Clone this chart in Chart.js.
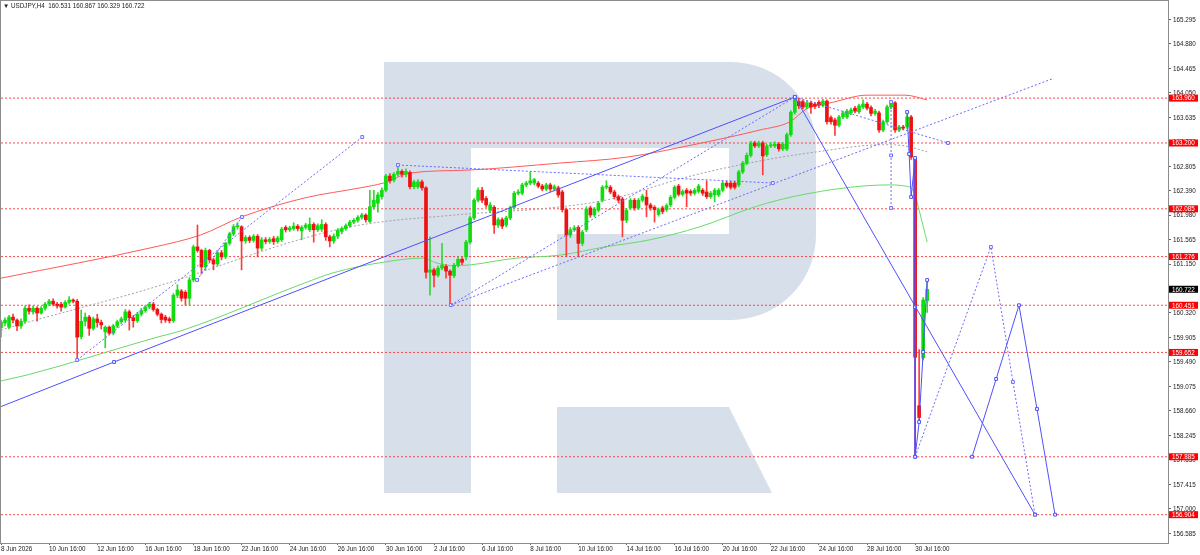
<!DOCTYPE html>
<html lang="en">
<head>
  <meta charset="UTF-8" />
  <title>USDJPY H4</title>
  <script src="https://cdn.jsdelivr.net/npm/chart.js"></script>
  <style>
    html, body { margin: 0; padding: 0; background: #fff; }
    canvas { display: block; }
  </style>
</head>
<body>
  <canvas id="chart" width="1200" height="555"></canvas>

  <script>
    // H4 bars, oldest first: 8 Jun 16:00 ... 31 Jul 04:00 (232 bars)
    const opens = [
      160.07,160.15,160.08,160.25,160.20,160.10,160.18,160.40,160.34,160.40,
      160.32,160.40,160.47,160.52,160.47,160.47,160.42,160.50,160.54,160.52,
      159.92,160.18,160.25,160.06,160.22,160.16,160.00,160.08,159.98,160.10,
      160.17,160.20,160.34,160.24,160.19,160.30,160.36,160.42,160.47,160.38,
      160.30,160.25,160.22,160.19,160.62,160.69,160.67,160.57,160.88,161.44,
      161.38,161.10,161.38,161.22,161.15,161.34,161.27,161.50,161.66,161.78,
      161.78,161.54,161.60,161.55,161.62,161.42,161.56,161.53,161.58,161.53,
      161.56,161.77,161.73,161.75,161.79,161.71,161.77,161.73,161.82,161.73,
      161.74,161.82,161.61,161.54,161.62,161.70,161.75,161.80,161.86,161.89,
      161.94,161.98,161.87,162.12,162.18,162.29,162.40,162.64,162.57,162.67,
      162.72,162.67,162.70,162.46,162.46,162.54,162.44,161.01,161.05,160.96,
      161.08,161.11,161.03,160.95,161.13,161.23,161.27,161.52,161.93,162.23,
      162.40,162.26,162.06,162.11,161.81,161.90,161.81,161.93,162.11,162.35,
      162.35,162.49,162.52,162.52,162.52,162.47,162.42,162.49,162.42,162.44,
      162.37,162.07,161.64,161.73,161.77,161.50,161.73,162.10,161.98,162.06,
      162.23,162.45,162.45,162.37,162.29,162.25,161.89,162.10,162.23,162.10,
      162.23,162.28,162.15,162.11,161.99,162.10,162.07,162.15,162.28,162.47,
      162.33,162.40,162.38,162.35,162.38,162.40,162.37,162.29,162.32,162.32,
      162.40,162.52,162.52,162.52,162.49,162.71,162.86,162.99,163.20,163.15,
      163.20,163.00,163.15,163.15,163.18,163.10,163.10,163.34,163.72,163.90,
      163.90,163.81,163.88,163.86,163.89,163.84,163.91,163.63,163.59,163.50,
      163.64,163.64,163.71,163.79,163.73,163.81,163.86,163.80,163.70,163.71,
      163.42,163.56,163.81,163.88,163.42,163.47,163.47,163.64,162.94,158.75,
      159.56,160.531
    ];
    const highs = [
      160.20,160.24,160.28,160.30,160.22,160.22,160.44,160.46,160.44,160.43,
      160.43,160.50,160.55,160.56,160.50,160.50,160.53,160.60,160.56,160.55,
      160.37,160.32,160.28,160.25,160.30,160.20,160.10,160.10,160.13,160.20,
      160.25,160.38,160.37,160.28,160.33,160.40,160.45,160.50,160.50,160.40,
      160.32,160.28,160.25,160.65,160.80,160.72,160.70,160.92,161.47,161.81,
      161.40,161.42,161.40,161.25,161.37,161.38,161.52,161.69,161.82,161.85,
      161.80,161.63,161.63,161.65,161.65,161.60,161.60,161.60,161.62,161.62,
      161.77,161.80,161.79,161.85,161.82,161.80,161.84,161.93,161.85,161.83,
      161.90,161.85,161.64,161.66,161.75,161.78,161.83,161.89,161.92,161.97,
      162.01,162.00,162.40,162.40,162.36,162.44,162.67,162.68,162.70,162.83,
      162.75,162.76,162.73,162.57,162.58,162.57,162.46,161.61,161.08,161.12,
      161.50,161.14,161.05,161.16,161.27,161.26,161.55,161.96,162.26,162.44,
      162.45,162.29,162.19,162.14,161.93,161.93,161.96,162.13,162.38,162.41,
      162.52,162.55,162.71,162.60,162.55,162.50,162.52,162.52,162.49,162.47,
      162.40,162.10,161.77,161.80,161.80,161.72,162.12,162.13,162.11,162.21,
      162.48,162.56,162.48,162.40,162.32,162.28,162.09,162.26,162.26,162.26,
      162.33,162.40,162.18,162.14,162.10,162.13,162.17,162.31,162.48,162.50,
      162.41,162.43,162.41,162.43,162.50,162.43,162.56,162.38,162.43,162.43,
      162.55,162.55,162.55,162.55,162.74,162.89,163.03,163.23,163.23,163.23,
      163.23,163.18,163.21,163.22,163.21,163.21,163.37,163.75,163.98,163.95,
      163.93,163.91,163.91,163.89,163.92,163.94,163.93,163.66,163.62,163.67,
      163.74,163.77,163.79,163.82,163.86,163.93,163.89,163.83,163.77,163.74,
      163.59,163.84,163.89,163.90,163.50,163.50,163.72,163.67,162.96,159.70,
      160.58,160.867
    ];
    const lows = [
      159.91,160.10,160.05,160.15,160.02,160.06,160.15,160.30,160.30,160.18,
      160.30,160.37,160.44,160.44,160.40,160.35,160.40,160.47,160.49,159.52,
      159.88,160.10,159.94,160.03,160.08,160.05,159.73,159.95,159.95,160.07,
      160.14,160.17,160.03,160.08,160.16,160.27,160.33,160.39,160.35,160.27,
      160.15,160.16,160.15,160.16,160.58,160.52,160.45,160.45,160.85,161.35,
      160.98,161.05,161.18,161.05,161.12,161.22,161.24,161.47,161.63,161.74,
      161.05,161.50,161.51,161.52,161.27,161.38,161.49,161.50,161.48,161.50,
      161.53,161.69,161.70,161.72,161.71,161.56,161.74,161.70,161.52,161.70,
      161.70,161.55,161.44,161.50,161.58,161.66,161.72,161.77,161.83,161.86,
      161.91,161.86,161.85,162.08,162.03,162.25,162.37,162.52,162.54,162.64,
      162.62,162.63,162.42,162.42,162.43,162.40,160.91,160.62,160.76,160.93,
      161.05,160.91,160.45,160.92,161.10,161.14,161.22,161.49,161.90,162.20,
      162.19,162.11,162.02,161.67,161.77,161.75,161.78,161.90,162.08,162.32,
      162.32,162.46,162.49,162.49,162.44,162.39,162.39,162.38,162.39,162.28,
      162.03,161.28,161.60,161.70,161.28,161.46,161.70,161.94,161.95,162.03,
      162.20,162.42,162.34,162.25,162.19,161.61,161.85,162.07,162.06,162.07,
      162.20,161.95,162.06,161.86,161.96,162.00,162.04,162.12,162.25,162.30,
      162.30,162.12,162.31,162.32,162.35,162.31,162.26,162.26,162.20,162.29,
      162.37,162.44,162.42,162.42,162.46,162.68,162.83,162.96,163.12,163.12,
      162.66,162.97,163.12,163.12,163.06,163.07,163.07,163.31,163.69,163.78,
      163.78,163.78,163.70,163.78,163.80,163.81,163.52,163.52,163.33,163.47,
      163.61,163.61,163.68,163.71,163.70,163.78,163.76,163.66,163.67,163.38,
      163.39,163.53,163.78,163.38,163.39,163.42,163.44,162.92,157.885,158.48,
      159.52,160.329
    ];
    const closes = [
      160.17,160.20,160.25,160.20,160.10,160.18,160.40,160.35,160.40,160.32,
      160.40,160.47,160.52,160.47,160.44,160.42,160.50,160.54,160.52,159.91,
      160.18,160.25,160.06,160.22,160.16,160.12,160.08,159.98,160.10,160.17,
      160.22,160.34,160.24,160.19,160.30,160.36,160.42,160.47,160.38,160.30,
      160.21,160.20,160.19,160.62,160.71,160.57,160.57,160.88,161.44,161.38,
      161.10,161.38,161.22,161.15,161.34,161.27,161.50,161.66,161.78,161.80,
      161.54,161.60,161.55,161.62,161.42,161.56,161.53,161.57,161.53,161.59,
      161.74,161.73,161.76,161.79,161.75,161.77,161.81,161.82,161.73,161.80,
      161.82,161.61,161.54,161.62,161.72,161.75,161.80,161.86,161.89,161.94,
      161.98,161.90,162.12,162.23,162.32,162.40,162.64,162.56,162.67,162.72,
      162.67,162.72,162.46,162.54,162.54,162.44,161.01,161.05,160.96,161.08,
      161.13,161.03,160.96,161.13,161.23,161.18,161.52,161.93,162.23,162.40,
      162.23,162.15,162.15,161.81,161.90,161.79,161.93,162.10,162.35,162.37,
      162.49,162.52,162.56,162.58,162.47,162.42,162.49,162.42,162.46,162.32,
      162.07,161.64,161.73,161.76,161.50,161.69,162.08,161.98,162.08,162.18,
      162.45,162.47,162.37,162.29,162.23,161.89,162.06,162.23,162.10,162.23,
      162.30,162.15,162.10,162.07,162.07,162.04,162.14,162.28,162.45,162.33,
      162.38,162.35,162.35,162.40,162.47,162.35,162.29,162.35,162.40,162.40,
      162.52,162.47,162.45,162.45,162.71,162.86,162.99,163.20,163.15,163.20,
      162.98,163.15,163.17,163.18,163.10,163.18,163.34,163.72,163.96,163.83,
      163.81,163.88,163.81,163.82,163.84,163.91,163.56,163.56,163.50,163.64,
      163.71,163.74,163.76,163.74,163.83,163.86,163.79,163.70,163.74,163.42,
      163.56,163.81,163.88,163.42,163.47,163.45,163.64,162.96,159.57,158.55,
      160.54,160.722
    ];

    // time axis labels (bar number, text)
    const xTickAt = [0, 12, 24, 36, 48, 60, 72, 84, 96, 108, 120, 132, 144, 156, 168, 180, 192, 204, 216, 228];
    const xTickText = ['8 Jun 2026', '10 Jun 16:00', '12 Jun 16:00', '16 Jun 16:00', '18 Jun 16:00',
      '22 Jun 16:00', '24 Jun 16:00', '26 Jun 16:00', '30 Jun 16:00', '2 Jul 16:00', '6 Jul 16:00',
      '8 Jul 16:00', '10 Jul 16:00', '14 Jul 16:00', '16 Jul 16:00', '20 Jul 16:00', '22 Jul 16:00',
      '24 Jul 16:00', '28 Jul 16:00', '30 Jul 16:00'];

    // price axis labels
    const yTicks = [165.295, 164.880, 164.465, 164.050, 163.635, 163.220, 162.805, 162.390, 161.980,
      161.565, 161.150, 160.735, 160.320, 159.905, 159.490, 159.075, 158.660, 158.245, 157.830,
      157.415, 157.000, 156.585];

    // horizontal levels with tags on the price axis
    const levels = [163.960, 163.200, 162.085, 161.276, 160.451, 159.652, 157.885, 156.904];
    const lastPrice = 160.722;

    // moving averages, [bar, price]
    const maRed = [[0,160.91],[38.4,161.44],[49.7,161.64],[60.1,161.95],[75.8,162.27],[89.6,162.44],
      [95.3,162.52],[102,162.69],[116.2,162.74],[139.4,162.86],[156.1,162.96],[172.6,163.17],
      [189.3,163.42],[196.8,163.56],[201,163.78],[207.5,163.89],[216,164.01],[225.5,164.01],[231,163.93]];
    const maGreen = [[0,159.17],[6.5,159.27],[38.4,159.90],[45.4,160.03],[75.8,160.83],[82.8,161.00],
      [95.3,161.18],[105.3,161.25],[108.5,161.17],[113.2,161.12],[128.7,161.25],[139.4,161.30],
      [150.7,161.44],[161.9,161.56],[174.3,161.78],[188.1,162.12],[197.5,162.29],[211.8,162.45],
      [221.7,162.49],[225.5,162.47],[227.5,162.40],[229.3,161.98],[231,161.52]];
    const maGray = [[0,160.03],[6,160.15],[38.4,160.76],[75.8,161.59],[89.6,161.81],[113.2,161.98],
      [136.9,162.10],[150.7,162.23],[172.6,162.65],[188.1,162.88],[203.5,163.05],[220,163.17],
      [225.5,163.15],[231,163.05]];

    // analysis lines, [bar, price]
    const trendUp = [[0,158.735],[28.2,159.49],[198,163.979]];
    const trendDown = [[198,163.979],[257.9,156.904]];
    const waveNow = [[226,163.725],[226.5,163.013],[227,162.285],[228,162.946],[228,160.422],
      [228,157.885],[229,158.474],[230,159.66],[231,160.879]];
    const waveNext = [[242.2,157.885],[248.2,159.202],[253.9,160.451],[258.4,158.694],[262.9,156.904]];
    const dotA = [[19,159.524],[90.1,163.301]];
    const dotB = [[48.9,160.879],[60.1,161.946]];
    const dotC = [[99,162.827],[192.5,162.522]];
    const dotD = [[112.2,160.455],[198,163.979]];
    const dotE = [[112.2,160.455],[262.1,164.284]];
    const dotF = [[198,163.979],[236.2,163.2]];
    const dotG = [[222,163.894],[222,162.99],[222,162.099]];
    const dotAlt = [[228,157.885],[246.9,161.438],[252.4,159.151],[257.9,156.904]];

    const X_MAX = 291.07;
    const Y_MIN = 156.424, Y_MAX = 165.605;
    const FONT = { family: 'Liberation Sans', size: 6.3 };

    const pts = arr => arr.map(p => ({ x: p[0], y: p[1] }));

    // candles: wick = thin floating bar low..high, body = floating bar open..close
    const wickUp = [], wickDn = [], bodyUp = [], bodyDn = [];
    closes.forEach((c, i) => {
      const rising = c >= opens[i];
      (rising ? wickUp : wickDn).push({ x: i, y: [lows[i], highs[i]] });
      (rising ? bodyUp : bodyDn).push({ x: i, y: [opens[i], c] });
    });

    const datasets = [];

    levels.forEach(v => datasets.push({
      type: 'line', data: [{ x: 0, y: v }, { x: X_MAX, y: v }],
      borderColor: 'rgba(255,30,30,0.8)', borderWidth: 1, borderDash: [2, 2],
      pointRadius: 0, order: 60
    }));

    const maLine = (arr, color, dash) => ({
      type: 'line', data: pts(arr), borderColor: color, borderWidth: 1, borderDash: dash,
      pointRadius: 0, cubicInterpolationMode: 'monotone', order: 50
    });
    datasets.push(maLine(maRed, '#ff5a5a', []));
    datasets.push(maLine(maGreen, '#6ad96a', []));
    datasets.push(maLine(maGray, '#a0a0a0', [2, 2]));

    const candleBar = (data, color, width, order) => ({
      type: 'bar', data, backgroundColor: color, barThickness: width,
      grouped: false, minBarLength: 1, order
    });
    datasets.push(candleBar(wickUp, '#33d633', 1, 40));
    datasets.push(candleBar(wickDn, '#ff3a3a', 1, 40));
    datasets.push(candleBar(bodyUp, '#10dd10', 3, 30));
    datasets.push(candleBar(bodyDn, '#ee1111', 3, 30));

    const blueLine = (arr, dotted, radius) => ({
      type: 'line', data: pts(arr),
      borderColor: dotted ? '#6a6aff' : '#4f4fff', borderWidth: 1, borderDash: dotted ? [2, 2] : [],
      pointStyle: 'rect', pointRadius: radius === undefined ? 2 : radius,
      pointBackgroundColor: '#ffffff', pointBorderColor: dotted ? '#6a6aff' : '#4f4fff',
      pointBorderWidth: 1, tension: 0, order: 10
    });
    datasets.push(blueLine(trendUp, false, [0, 2, 2]));
    datasets.push(blueLine(trendDown, false));
    datasets.push(blueLine(waveNow, false));
    datasets.push(blueLine(waveNext, false));
    datasets.push(blueLine(dotA, true));
    datasets.push(blueLine(dotB, true));
    datasets.push(blueLine(dotC, true));
    datasets.push(blueLine(dotD, true, 0));
    datasets.push(blueLine(dotE, true, [2, 0]));
    datasets.push(blueLine(dotF, true));
    datasets.push(blueLine(dotG, true));
    datasets.push(blueLine(dotAlt, true));

    // big "R" watermark behind the bars
    const watermark = {
      id: 'watermark',
      beforeDatasetsDraw(chart) {
        const ctx = chart.ctx;
        ctx.save();
        ctx.fillStyle = '#d6dfea';
        ctx.fillRect(384, 62, 87, 431);
        ctx.beginPath();
        ctx.moveTo(471, 62);
        ctx.lineTo(731, 62);
        ctx.arcTo(816, 62, 816, 147, 85);
        ctx.lineTo(816, 235);
        ctx.arcTo(816, 320, 731, 320, 85);
        ctx.lineTo(557, 320);
        ctx.lineTo(557, 234);
        ctx.lineTo(729, 234);
        ctx.lineTo(729, 148);
        ctx.lineTo(471, 148);
        ctx.closePath();
        ctx.fill();
        ctx.beginPath();
        ctx.moveTo(557, 407);
        ctx.lineTo(729, 407);
        ctx.lineTo(772, 493);
        ctx.lineTo(557, 493);
        ctx.closePath();
        ctx.fill();
        ctx.restore();
      }
    };

    // frame, price labels, tags and the symbol header
    const overlay = {
      id: 'overlay',
      afterDraw(chart) {
        const { ctx, chartArea: a } = chart;
        const y = chart.scales.y;
        ctx.save();
        ctx.strokeStyle = '#8c8c8c';
        ctx.lineWidth = 1;
        ctx.strokeRect(a.left - 0.5, a.top - 0.5, a.right - a.left + 1, a.bottom - a.top + 1);

        ctx.font = FONT.size + 'px "' + FONT.family + '"';
        ctx.textBaseline = 'middle';
        ctx.fillStyle = '#222222';
        yTicks.forEach(v => ctx.fillText(v.toFixed(3), a.right + 5, y.getPixelForValue(v) + 0.5));

        const tag = (v, bg) => {
          const py = y.getPixelForValue(v);
          ctx.fillStyle = bg;
          ctx.fillRect(a.right + 1, py - 3.5, 29, 7);
          ctx.fillStyle = '#ffffff';
          ctx.fillText(v.toFixed(3), a.right + 4, py + 0.5);
        };
        levels.forEach(v => tag(v, '#ff0000'));
        tag(lastPrice, '#000000');

        const n = closes.length - 1;
        const head = [opens[n], highs[n], lows[n], closes[n]].map(v => v.toFixed(3)).join(' ');
        ctx.fillStyle = '#222222';
        ctx.fillText('\u25BC USDJPY,H4  ' + head, 3, 6);
        ctx.restore();
      }
    };

    new Chart(document.getElementById('chart'), {
      type: 'bar',
      data: { datasets },
      options: {
        responsive: false,
        animation: false,
        layout: { autoPadding: false, padding: { left: 1, top: 1, right: 0, bottom: 0 } },
        plugins: { legend: { display: false }, tooltip: { enabled: false } },
        scales: {
          x: {
            type: 'linear', min: 0, max: X_MAX, offset: false,
            grid: { drawOnChartArea: false, drawTicks: true, tickLength: 2, color: '#666', offset: false },
            border: { display: true, color: '#8c8c8c' },
            afterBuildTicks: s => { s.ticks = xTickAt.map(v => ({ value: v })); },
            afterFit: s => { s.height = 12; s.paddingLeft = 0; s.paddingRight = 0; },
            ticks: {
              autoSkip: false, maxRotation: 0, minRotation: 0, align: 'start', padding: 0,
              font: FONT, color: '#222',
              callback: (v, k) => xTickText[k]
            }
          },
          y: {
            type: 'linear', position: 'right', min: Y_MIN, max: Y_MAX,
            grid: { drawOnChartArea: false, drawTicks: true, tickLength: 3, color: '#666' },
            border: { display: true, color: '#8c8c8c' },
            afterBuildTicks: s => { s.ticks = yTicks.map(v => ({ value: v })); },
            afterFit: s => { s.width = 32; },
            ticks: { display: false }
          }
        }
      },
      plugins: [watermark, overlay]
    });
  </script>
</body>
</html>
